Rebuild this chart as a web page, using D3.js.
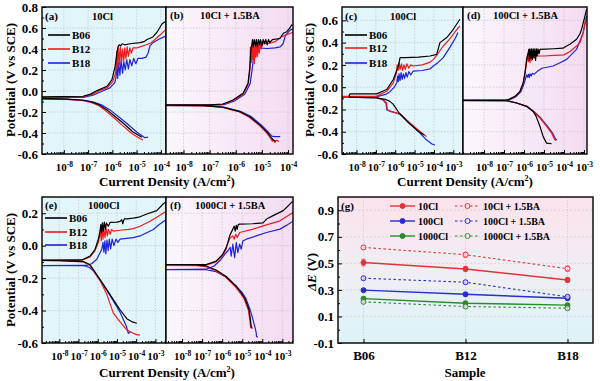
<!DOCTYPE html>
<html>
<head>
<meta charset="utf-8">
<script src="https://cdn.jsdelivr.net/npm/d3@7"></script>
<style>
body { margin: 0; background: #fff; }
text { font-family: "Liberation Serif", "Times New Roman", serif; font-weight: bold; fill: #000; }
</style>
</head>
<body>
<div id="chart"></div>
<script>
// ---- data: polarization curves, points are [log10(i / A cm-2), E / V vs SCE]
// cathodic branch listed from its high-current end to the tip, anodic from the tip upward
var samples = ["B06", "B12", "B18"];

// (a) 10Cl
var a_B06_cat = [[-4.78,-0.44],[-5.15,-0.39],[-5.56,-0.305],[-5.85,-0.25],[-6.22,-0.18],[-6.51,-0.135],[-6.84,-0.105],[-7.21,-0.088],[-7.87,-0.077],[-9.1,-0.07]];
var a_B06_ano = [[-9.1,-0.056],[-7.21,-0.05],[-6.9,-0.03],[-6.63,0.004],[-6.22,0.045],[-6.02,0.105],[-5.89,0.23],[-5.81,0.36],[-5.77,0.42],[-5.72,0.44],[-5.66,0.43],[-5.6,0.45],[-5.5,0.44],[-5.27,0.45],[-4.86,0.46],[-4.7,0.47],[-4.57,0.49],[-4.33,0.515],[-4.16,0.56],[-3.95,0.64],[-3.83,0.66]];
var a_B12_cat = [[-4.74,-0.467],[-4.85,-0.455],[-5.2,-0.405],[-5.6,-0.325],[-5.9,-0.262],[-6.26,-0.19],[-6.55,-0.14],[-6.88,-0.108],[-7.25,-0.09],[-7.9,-0.08],[-9.1,-0.076]];
var a_B12_ano = [[-9.1,-0.06],[-7.2,-0.055],[-6.85,-0.035],[-6.6,-0.005],[-6.2,0.035],[-5.98,0.09],[-5.86,0.18],[-5.82,0.38],[-5.79,0.22],[-5.75,0.41],[-5.71,0.25],[-5.67,0.42],[-5.62,0.27],[-5.58,0.40],[-5.53,0.29],[-5.49,0.41],[-5.44,0.31],[-5.39,0.42],[-5.34,0.33],[-5.28,0.41],[-5.22,0.36],[-5.15,0.41],[-5.0,0.41],[-4.86,0.42],[-4.6,0.44],[-4.4,0.46],[-4.2,0.5],[-4.0,0.54],[-3.83,0.58]];
var a_B18_cat = [[-4.53,-0.44],[-4.66,-0.445],[-5.0,-0.39],[-5.4,-0.31],[-5.72,-0.25],[-6.1,-0.18],[-6.42,-0.135],[-6.78,-0.105],[-7.15,-0.088],[-7.85,-0.08],[-9.1,-0.078]];
var a_B18_ano = [[-9.1,-0.065],[-7.2,-0.06],[-6.8,-0.04],[-6.5,-0.01],[-6.1,0.03],[-5.9,0.08],[-5.85,0.13],[-5.82,0.25],[-5.78,0.12],[-5.74,0.27],[-5.69,0.15],[-5.64,0.29],[-5.58,0.17],[-5.53,0.28],[-5.47,0.2],[-5.41,0.3],[-5.34,0.21],[-5.28,0.3],[-5.2,0.24],[-5.12,0.31],[-5.03,0.26],[-4.95,0.31],[-4.8,0.31],[-4.62,0.32],[-4.53,0.36],[-4.45,0.43],[-4.33,0.46],[-4.1,0.49],[-3.83,0.52]];

// (b) 10Cl + 1.5BA
var b_B06_cat = [[-4.48,-0.475],[-4.55,-0.47],[-4.62,-0.45],[-4.81,-0.39],[-5.07,-0.325],[-5.46,-0.245],[-5.84,-0.197],[-6.49,-0.155],[-7.2,-0.14],[-9.0,-0.135]];
var b_B06_ano = [[-9.0,-0.133],[-7.0,-0.132],[-6.49,-0.124],[-6.11,-0.086],[-5.72,-0.022],[-5.53,0.073],[-5.46,0.23],[-5.42,0.39],[-5.38,0.45],[-5.36,0.49],[-5.33,0.42],[-5.29,0.49],[-5.25,0.43],[-5.21,0.49],[-5.17,0.42],[-5.13,0.49],[-5.09,0.44],[-5.05,0.49],[-5.0,0.43],[-4.95,0.49],[-4.9,0.45],[-4.85,0.49],[-4.8,0.44],[-4.75,0.49],[-4.7,0.46],[-4.6,0.49],[-4.31,0.5],[-4.18,0.55],[-4.05,0.565],[-3.93,0.6],[-3.86,0.63],[-3.81,0.62]];
var b_B12_cat = [[-4.35,-0.48],[-4.45,-0.47],[-4.5,-0.49],[-4.55,-0.465],[-4.6,-0.48],[-4.65,-0.455],[-4.83,-0.395],[-5.09,-0.33],[-5.48,-0.25],[-5.86,-0.2],[-6.5,-0.157],[-7.2,-0.141],[-9.0,-0.137]];
var b_B12_ano = [[-9.0,-0.135],[-7.0,-0.134],[-6.5,-0.127],[-6.1,-0.09],[-5.72,-0.03],[-5.52,0.07],[-5.46,0.2],[-5.44,0.42],[-5.41,0.27],[-5.38,0.44],[-5.35,0.3],[-5.32,0.45],[-5.29,0.26],[-5.26,0.43],[-5.23,0.32],[-5.2,0.45],[-5.17,0.33],[-5.14,0.44],[-5.1,0.36],[-5.07,0.45],[-5.03,0.4],[-4.98,0.45],[-4.7,0.455],[-4.5,0.47],[-4.26,0.515],[-4.0,0.54],[-3.81,0.56]];
var b_B18_cat = [[-4.3,-0.435],[-4.5,-0.435],[-4.62,-0.43],[-4.78,-0.385],[-5.04,-0.32],[-5.43,-0.24],[-5.82,-0.193],[-6.47,-0.153],[-7.2,-0.14],[-9.0,-0.138]];
var b_B18_ano = [[-9.0,-0.138],[-7.0,-0.136],[-6.45,-0.13],[-6.05,-0.095],[-5.66,-0.03],[-5.45,0.07],[-5.36,0.23],[-5.3,0.38],[-5.26,0.42],[-5.15,0.41],[-4.8,0.405],[-4.5,0.41],[-4.3,0.42],[-4.19,0.45],[-4.1,0.53],[-3.92,0.58],[-3.84,0.59],[-3.81,0.58]];

// (c) 100Cl
var c_B06_cat = [[-4.5,-0.43],[-4.8,-0.398],[-5.3,-0.322],[-5.8,-0.232],[-6.12,-0.15],[-6.3,-0.125],[-6.5,-0.11],[-6.96,-0.097],[-8.0,-0.092],[-8.34,-0.09],[-8.38,-0.075]];
var c_B06_ano = [[-8.38,-0.075],[-8.34,-0.06],[-6.96,-0.06],[-6.44,-0.021],[-6.1,0.069],[-5.84,0.189],[-5.75,0.265],[-5.5,0.265],[-4.8,0.27],[-4.2,0.28],[-3.86,0.295],[-3.69,0.40],[-3.34,0.446],[-3.0,0.52],[-2.66,0.61]];
var c_B12_cat = [[-4.38,-0.444],[-4.72,-0.398],[-5.24,-0.322],[-5.75,-0.24],[-6.25,-0.215],[-6.41,-0.2],[-6.45,-0.14],[-6.63,-0.112],[-6.96,-0.092],[-9.0,-0.085]];
var c_B12_ano = [[-9.0,-0.082],[-6.96,-0.08],[-6.44,-0.037],[-6.1,0.039],[-5.95,0.12],[-5.9,0.2],[-5.85,0.15],[-5.8,0.22],[-5.75,0.16],[-5.68,0.21],[-5.62,0.15],[-5.55,0.2],[-5.48,0.16],[-5.4,0.21],[-5.3,0.17],[-5.2,0.2],[-5.07,0.19],[-4.6,0.2],[-4.2,0.225],[-4.03,0.25],[-3.8,0.3],[-3.52,0.37],[-3.2,0.43],[-2.9,0.5],[-2.66,0.55]];
var c_B18_cat = [[-3.95,-0.519],[-4.1,-0.51],[-4.38,-0.475],[-4.72,-0.413],[-5.24,-0.325],[-5.75,-0.243],[-6.25,-0.218],[-6.43,-0.205],[-6.48,-0.145],[-6.63,-0.115],[-6.96,-0.095],[-9.0,-0.088]];
var c_B18_ano = [[-9.0,-0.088],[-6.96,-0.086],[-6.5,-0.065],[-6.27,-0.04],[-6.05,0.0],[-5.92,0.04],[-5.88,0.1],[-5.84,0.05],[-5.8,0.12],[-5.75,0.06],[-5.7,0.13],[-5.64,0.07],[-5.58,0.12],[-5.52,0.08],[-5.45,0.13],[-5.38,0.09],[-5.3,0.14],[-5.2,0.11],[-5.07,0.145],[-4.6,0.15],[-4.2,0.165],[-4.03,0.19],[-3.8,0.22],[-3.52,0.265],[-3.17,0.36],[-2.9,0.44],[-2.76,0.49]];

// (d) 100Cl + 1.5BA
var d_B06_cat = [[-4.62,-0.508],[-4.87,-0.503],[-5.04,-0.444],[-5.2,-0.353],[-5.4,-0.26],[-5.54,-0.218],[-5.87,-0.172],[-6.37,-0.142],[-6.87,-0.12],[-9.2,-0.118]];
var d_B06_ano = [[-9.2,-0.117],[-6.87,-0.116],[-6.7,-0.105],[-6.45,-0.082],[-6.2,-0.037],[-6.04,0.039],[-5.95,0.13],[-5.87,0.25],[-5.79,0.31],[-5.76,0.34],[-5.73,0.24],[-5.7,0.345],[-5.66,0.26],[-5.62,0.345],[-5.58,0.25],[-5.54,0.345],[-5.5,0.27],[-5.46,0.345],[-5.42,0.24],[-5.38,0.345],[-5.34,0.28],[-5.3,0.345],[-5.25,0.3],[-5.2,0.34],[-4.5,0.345],[-4.05,0.35],[-3.87,0.37],[-3.7,0.386],[-3.37,0.43],[-3.2,0.48],[-3.12,0.52],[-2.95,0.64],[-2.87,0.70]];
var d_B12_cat = [[-4.4,-0.48],[-4.45,-0.473],[-4.62,-0.413],[-4.87,-0.353],[-5.2,-0.277],[-5.54,-0.218],[-5.87,-0.172],[-6.37,-0.142],[-6.87,-0.121],[-9.2,-0.119]];
var d_B12_ano = [[-9.2,-0.119],[-6.87,-0.117],[-6.7,-0.107],[-6.45,-0.085],[-6.2,-0.04],[-6.04,0.035],[-5.95,0.12],[-5.87,0.22],[-5.82,0.3],[-5.78,0.23],[-5.74,0.31],[-5.7,0.22],[-5.66,0.3],[-5.61,0.24],[-5.56,0.29],[-5.5,0.26],[-5.4,0.28],[-5.0,0.28],[-4.5,0.285],[-4.0,0.29],[-3.7,0.32],[-3.37,0.37],[-3.2,0.40],[-3.04,0.49],[-2.95,0.58],[-2.9,0.62]];
var d_B18_cat = [[-4.35,-0.475],[-4.42,-0.468],[-4.58,-0.41],[-4.83,-0.35],[-5.17,-0.275],[-5.52,-0.216],[-5.86,-0.171],[-6.36,-0.142],[-6.87,-0.122],[-9.2,-0.12]];
var d_B18_ano = [[-9.2,-0.12],[-6.87,-0.118],[-6.65,-0.108],[-6.4,-0.085],[-6.15,-0.04],[-6.0,0.03],[-5.92,0.08],[-5.87,0.11],[-5.82,0.09],[-5.78,0.115],[-5.74,0.085],[-5.7,0.12],[-5.64,0.1],[-5.58,0.125],[-5.5,0.115],[-5.35,0.14],[-5.1,0.17],[-4.54,0.19],[-4.2,0.22],[-3.87,0.25],[-3.37,0.34],[-3.04,0.49],[-2.87,0.64]];

// (e) 1000Cl
var e_B06_cat = [[-3.97,-0.478],[-4.2,-0.47],[-4.49,-0.45],[-4.84,-0.395],[-5.19,-0.333],[-5.53,-0.271],[-5.88,-0.209],[-6.23,-0.147],[-6.4,-0.118],[-6.75,-0.098],[-7.96,-0.092],[-9.1,-0.09]];
var e_B06_ano = [[-9.1,-0.089],[-6.83,-0.088],[-6.4,-0.064],[-6.14,-0.022],[-5.97,0.04],[-5.88,0.09],[-5.84,0.13],[-5.8,0.08],[-5.76,0.14],[-5.71,0.09],[-5.66,0.145],[-5.6,0.1],[-5.55,0.14],[-5.45,0.12],[-5.36,0.143],[-5.0,0.145],[-4.84,0.15],[-4.75,0.16],[-4.7,0.135],[-4.62,0.165],[-4.49,0.165],[-4.15,0.17],[-3.8,0.178],[-3.45,0.195],[-2.93,0.216],[-2.6,0.257],[-2.45,0.27]];
var e_B12_cat = [[-3.8,-0.55],[-3.95,-0.55],[-4.15,-0.54],[-4.49,-0.519],[-4.84,-0.47],[-5.19,-0.416],[-5.53,-0.3],[-5.88,-0.215],[-6.23,-0.152],[-6.4,-0.12],[-6.75,-0.1],[-7.96,-0.093],[-9.1,-0.091]];
var e_B12_ano = [[-9.1,-0.091],[-6.83,-0.09],[-6.4,-0.07],[-6.14,-0.03],[-5.97,0.02],[-5.9,0.06],[-5.86,0.1],[-5.82,0.03],[-5.78,0.11],[-5.73,0.04],[-5.68,0.1],[-5.62,0.05],[-5.57,0.11],[-5.5,0.06],[-5.44,0.1],[-5.36,0.07],[-5.28,0.1],[-5.19,0.09],[-4.84,0.095],[-4.4,0.1],[-4.15,0.105],[-3.8,0.12],[-3.28,0.15],[-2.93,0.175],[-2.6,0.2],[-2.45,0.21]];
var e_B18_cat = [[-4.3,-0.535],[-4.41,-0.54],[-4.45,-0.525],[-4.5,-0.5],[-4.84,-0.41],[-5.19,-0.34],[-5.53,-0.275],[-5.88,-0.212],[-6.23,-0.155],[-6.45,-0.133],[-6.75,-0.125],[-7.96,-0.123],[-9.1,-0.123]];
var e_B18_ano = [[-9.1,-0.123],[-6.57,-0.122],[-6.3,-0.11],[-6.05,-0.084],[-5.79,-0.022],[-5.73,0.02],[-5.68,-0.04],[-5.63,0.03],[-5.58,-0.05],[-5.52,0.035],[-5.46,-0.03],[-5.4,0.04],[-5.33,-0.02],[-5.25,0.04],[-5.16,0.0],[-5.05,0.04],[-4.95,0.02],[-4.84,0.04],[-4.5,0.045],[-4.15,0.05],[-3.8,0.06],[-3.45,0.08],[-3.11,0.1],[-2.8,0.13],[-2.45,0.16]];

// (f) 1000Cl + 1.5BA
var f_B06_cat = [[-4.5,-0.505],[-4.55,-0.5],[-4.6,-0.45],[-4.66,-0.395],[-4.85,-0.33],[-5.0,-0.3],[-5.3,-0.25],[-5.8,-0.19],[-6.3,-0.15],[-6.8,-0.125],[-7.3,-0.118],[-9.0,-0.116]];
var f_B06_ano = [[-9.0,-0.116],[-6.8,-0.116],[-6.3,-0.095],[-5.97,-0.053],[-5.8,-0.012],[-5.72,0.019],[-5.63,0.06],[-5.47,0.102],[-5.4,0.12],[-5.35,0.09],[-5.3,0.125],[-5.25,0.1],[-5.2,0.13],[-5.13,0.133],[-4.5,0.135],[-3.96,0.14],[-3.79,0.164],[-3.46,0.185],[-2.96,0.216],[-2.78,0.237],[-2.53,0.268],[-2.45,0.27]];
var f_B12_cat = [[-4.48,-0.51],[-4.58,-0.505],[-4.63,-0.45],[-4.7,-0.395],[-4.9,-0.33],[-5.05,-0.3],[-5.35,-0.252],[-5.85,-0.192],[-6.35,-0.153],[-6.8,-0.13],[-7.3,-0.123],[-9.0,-0.122]];
var f_B12_ano = [[-9.0,-0.122],[-6.8,-0.12],[-6.3,-0.1],[-5.97,-0.06],[-5.8,-0.02],[-5.7,0.02],[-5.6,0.05],[-5.47,0.06],[-5.4,0.04],[-5.33,0.07],[-5.25,0.05],[-5.13,0.081],[-4.5,0.1],[-3.96,0.122],[-3.12,0.153],[-2.45,0.206]];
var f_B18_cat = [[-4.22,-0.565],[-4.29,-0.56],[-4.3,-0.54],[-4.35,-0.51],[-4.5,-0.44],[-4.62,-0.39],[-4.82,-0.325],[-5.0,-0.29],[-5.3,-0.25],[-5.8,-0.193],[-6.3,-0.16],[-6.8,-0.148],[-9.0,-0.147]];
var f_B18_ano = [[-9.0,-0.147],[-6.8,-0.145],[-6.4,-0.125],[-6.1,-0.09],[-5.85,-0.05],[-5.7,-0.03],[-5.6,-0.01],[-5.55,-0.064],[-5.47,0.009],[-5.38,-0.074],[-5.3,0.019],[-5.22,-0.043],[-5.13,0.009],[-5.05,-0.022],[-4.97,0.029],[-4.8,0.04],[-4.3,0.06],[-3.79,0.081],[-3.12,0.102],[-2.8,0.125],[-2.45,0.153]];

// (g) delta E per sample
var dE_10Cl      = [0.506, 0.458, 0.375];
var dE_10Cl_BA   = [0.620, 0.565, 0.460];
var dE_100Cl     = [0.298, 0.267, 0.237];
var dE_100Cl_BA  = [0.388, 0.358, 0.248];
var dE_1000Cl    = [0.234, 0.200, 0.185];
var dE_1000Cl_BA = [0.210, 0.175, 0.162];
var err_10Cl      = [0.025, 0.020, 0.018];
var err_10Cl_BA   = [0.015, 0.018, 0.020];
var err_100Cl     = [0.010, 0.012, 0.010];
var err_100Cl_BA  = [0.012, 0.012, 0.010];
var err_1000Cl    = [0.012, 0.012, 0.010];
var err_1000Cl_BA = [0.010, 0.010, 0.010];

// tick labels
var decTop = [-8, -7, -6, -5, -4];
var decWide = [-8, -7, -6, -5, -4, -3];
var yTicksA = [-0.6, -0.4, -0.2, 0.0, 0.2, 0.4, 0.6, 0.8];
var yTicksC = [-0.6, -0.4, -0.2, 0.0, 0.2, 0.4, 0.6];
var yTicksE = [-0.6, -0.4, -0.2, 0.0, 0.2];
var yTicksG = [-0.1, 0.1, 0.3, 0.5, 0.7, 0.9];

var colors = { B06: "#000000", B12: "#ee1b1f", B18: "#1e22d8" };

var svg = d3.select("#chart").append("svg").attr("width", 600).attr("height", 381);
var defs = svg.append("defs");

var pink = defs.append("linearGradient").attr("id", "pinkBg")
    .attr("x1", 0).attr("x2", 1).attr("y1", 0).attr("y2", 0);
pink.append("stop").attr("offset", 0).attr("stop-color", "#fbf7fc");
pink.append("stop").attr("offset", 1).attr("stop-color", "#f4dbf2");
var gbg = defs.append("linearGradient").attr("id", "gBg")
    .attr("x1", 0).attr("x2", 0).attr("y1", 0).attr("y2", 1);
gbg.append("stop").attr("offset", 0).attr("stop-color", "#fbe2ec");
gbg.append("stop").attr("offset", 0.5).attr("stop-color", "#f1eef4");
gbg.append("stop").attr("offset", 1).attr("stop-color", "#dcf4f7");

var panels = [
    { id: "a", label: "(a)", title: "10Cl", x0: 42, x1: 166, y0: 7, y1: 154, xd: [-8.9, -3.79], yd: [-0.6, 0.8],
      dec: decTop, yt: yTicksA, bg: "#e2f5fb", left: true, lx: 48, ly: [35, 49, 63], tx: 92, ty: 20,
      curves: { B06: [a_B06_cat, a_B06_ano], B12: [a_B12_cat, a_B12_ano], B18: [a_B18_cat, a_B18_ano] } },
    { id: "b", label: "(b)", title: "10Cl + 1.5BA", x0: 166, x1: 293, y0: 7, y1: 154, xd: [-8.67, -3.81], yd: [-0.6, 0.8],
      dec: decTop, yt: yTicksA, bg: "url(#pinkBg)", left: false, tx: 200, ty: 19,
      curves: { B06: [b_B06_cat, b_B06_ano], B12: [b_B12_cat, b_B12_ano], B18: [b_B18_cat, b_B18_ano] } },
    { id: "c", label: "(c)", title: "100Cl", x0: 342, x1: 463, y0: 7, y1: 154, xd: [-8.75, -2.5], yd: [-0.6, 0.72],
      dec: decWide, yt: yTicksC, bg: "#e2f5fb", left: true, lx: 345, ly: [35, 48, 63], tx: 390, ty: 20,
      curves: { B06: [c_B06_cat, c_B06_ano], B12: [c_B12_cat, c_B12_ano], B18: [c_B18_cat, c_B18_ano] } },
    { id: "d", label: "(d)", title: "100Cl + 1.5BA", x0: 463, x1: 587, y0: 7, y1: 154, xd: [-9.05, -2.85], yd: [-0.6, 0.72],
      dec: decWide, yt: yTicksC, bg: "url(#pinkBg)", left: false, tx: 493, ty: 19,
      curves: { B06: [d_B06_cat, d_B06_ano], B12: [d_B12_cat, d_B12_ano], B18: [d_B18_cat, d_B18_ano] } },
    { id: "e", label: "(e)", title: "1000Cl", x0: 42, x1: 166, y0: 197, y1: 343, xd: [-8.9, -2.45], yd: [-0.6, 0.3],
      dec: decWide, yt: yTicksE, bg: "#e2f5fb", left: true, lx: 45, ly: [218, 232, 245], tx: 88, ty: 209,
      curves: { B06: [e_B06_cat, e_B06_ano], B12: [e_B12_cat, e_B12_ano], B18: [e_B18_cat, e_B18_ano] } },
    { id: "f", label: "(f)", title: "1000Cl + 1.5BA", x0: 166, x1: 293, y0: 197, y1: 343, xd: [-8.8, -2.47], yd: [-0.6, 0.3],
      dec: decWide, yt: yTicksE, bg: "url(#pinkBg)", left: false, tx: 195, ty: 209,
      curves: { B06: [f_B06_cat, f_B06_ano], B12: [f_B12_cat, f_B12_ano], B18: [f_B18_cat, f_B18_ano] } }
];

function cleanAxis(ax, size) {
    ax.attr("font-family", null).attr("font-size", size + "px");
    ax.select(".domain").remove();
    ax.selectAll(".tick line").attr("stroke", "#000").attr("stroke-width", 1);
}

function minorMidpoints(ticks) {
    var m = [];
    for (var i = 0; i < ticks.length - 1; i++) m.push((ticks[i] + ticks[i + 1]) / 2);
    return m;
}

panels.forEach(function (p) {
    var xs = d3.scaleLog().domain([Math.pow(10, p.xd[0]), Math.pow(10, p.xd[1])]).range([p.x0, p.x1]);
    var ys = d3.scaleLinear().domain(p.yd).range([p.y1, p.y0]);
    var g = svg.append("g");

    g.append("rect").attr("x", p.x0).attr("y", p.y0)
        .attr("width", p.x1 - p.x0).attr("height", p.y1 - p.y0).attr("fill", p.bg);

    // dotted grid
    var majors = p.dec.map(function (n) { return Math.pow(10, n); });
    g.selectAll(".gx").data(majors).enter().append("line")
        .attr("x1", function (d) { return xs(d); }).attr("x2", function (d) { return xs(d); })
        .attr("y1", p.y0).attr("y2", p.y1)
        .attr("stroke", "#c4c4c4").attr("stroke-width", 0.7).attr("stroke-dasharray", "1.5,1.5");
    g.selectAll(".gy").data(p.yt).enter().append("line")
        .attr("x1", p.x0).attr("x2", p.x1)
        .attr("y1", function (d) { return ys(d); }).attr("y2", function (d) { return ys(d); })
        .attr("stroke", "#c4c4c4").attr("stroke-width", 0.7).attr("stroke-dasharray", "1.5,1.5");

    // curves
    var clipId = "clip-" + p.id;
    defs.append("clipPath").attr("id", clipId).append("rect")
        .attr("x", p.x0).attr("y", p.y0).attr("width", p.x1 - p.x0).attr("height", p.y1 - p.y0);
    var line = d3.line()
        .x(function (d) { return xs(Math.pow(10, d[0])); })
        .y(function (d) { return ys(d[1]); });
    var cg = g.append("g").attr("clip-path", "url(#" + clipId + ")");
    ["B18", "B12", "B06"].forEach(function (s) {
        var pts = p.curves[s][0].concat(p.curves[s][1]);
        cg.append("path").attr("d", line(pts)).attr("fill", "none")
            .attr("stroke", colors[s]).attr("stroke-width", 1.2).attr("stroke-linejoin", "round");
    });

    // frame
    g.append("rect").attr("x", p.x0).attr("y", p.y0)
        .attr("width", p.x1 - p.x0).attr("height", p.y1 - p.y0)
        .attr("fill", "none").attr("stroke", "#000").attr("stroke-width", 1.4);

    // x axis: minor ticks
    var minor = [];
    for (var n = Math.floor(p.xd[0]); n < p.xd[1]; n++) {
        for (var k = 2; k < 10; k++) {
            var v = k * Math.pow(10, n), lv = Math.log10(v);
            if (lv > p.xd[0] && lv < p.xd[1]) minor.push(v);
        }
    }
    var axm = g.append("g").attr("transform", "translate(0," + p.y1 + ")")
        .call(d3.axisBottom(xs).tickValues(minor).tickSize(-2).tickFormat(function () { return ""; }));
    cleanAxis(axm, 10);

    var axM = g.append("g").attr("transform", "translate(0," + p.y1 + ")")
        .call(d3.axisBottom(xs).tickValues(majors).tickSize(-4).tickPadding(9)
            .tickFormat(function () { return ""; }));
    cleanAxis(axM, 11);
    axM.selectAll(".tick text").each(function (d) {
        var t = d3.select(this);
        t.append("tspan").text("10");
        t.append("tspan").attr("dy", "-0.45em").attr("font-size", "7.5px")
            .text(Math.round(Math.log10(d)));
    });

    if (p.left) {
        var aym = g.append("g").attr("transform", "translate(" + p.x0 + ",0)")
            .call(d3.axisLeft(ys).tickValues(minorMidpoints(p.yt)).tickSize(-2).tickFormat(function () { return ""; }));
        cleanAxis(aym, 10);
        var ay = g.append("g").attr("transform", "translate(" + p.x0 + ",0)")
            .call(d3.axisLeft(ys).tickValues(p.yt).tickSize(-4).tickPadding(4)
                .tickFormat(function (d) { return d.toFixed(1); }));
        cleanAxis(ay, 13);

        // legend
        samples.forEach(function (s, i) {
            g.append("line").attr("x1", p.lx).attr("x2", p.lx + 22)
                .attr("y1", p.ly[i]).attr("y2", p.ly[i])
                .attr("stroke", colors[s]).attr("stroke-width", 1.6);
            g.append("text").attr("x", p.lx + 24).attr("y", p.ly[i] + 4)
                .attr("font-size", "11px").text(s);
        });
        g.append("text").attr("x", p.x0 + 3).attr("y", p.ty).attr("font-size", "11px").text(p.label);
    } else {
        g.append("text").attr("x", p.x0 + 4).attr("y", p.ty).attr("font-size", "11px").text(p.label);
    }
    g.append("text").attr("x", p.tx).attr("y", p.ty).attr("font-size", "10.5px").text(p.title);
});

// axis titles for the polarization panels
function potentialTitle(x, y) {
    svg.append("text").attr("transform", "translate(" + x + "," + y + ") rotate(-90)")
        .attr("text-anchor", "middle").attr("font-size", "13px").text("Potential (V vs SCE)");
}
function currentTitle(x, y) {
    var t = svg.append("text").attr("x", x).attr("y", y).attr("text-anchor", "middle").attr("font-size", "13px");
    t.append("tspan").text("Current Density (A/cm");
    t.append("tspan").attr("dy", -5).attr("font-size", "8px").text("2");
    t.append("tspan").attr("dy", 5).text(")");
}
potentialTitle(15, 80);
potentialTitle(314, 80);
potentialTitle(15, 270);
currentTitle(167, 186);
currentTitle(465, 186);
currentTitle(167, 377);

// ---- panel (g)
var gx0 = 338, gx1 = 593, gy0 = 197, gy1 = 343;
var gx = d3.scalePoint().domain(samples).range([gx0, gx1]).padding(0.25);
var gy = d3.scaleLinear().domain([-0.1, 1.0]).range([gy1, gy0]);
var G = svg.append("g");
G.append("rect").attr("x", gx0).attr("y", gy0).attr("width", gx1 - gx0).attr("height", gy1 - gy0)
    .attr("fill", "url(#gBg)");
G.selectAll(".ggx").data(samples).enter().append("line")
    .attr("x1", function (d) { return gx(d); }).attr("x2", function (d) { return gx(d); })
    .attr("y1", gy0).attr("y2", gy1)
    .attr("stroke", "#c8c8c8").attr("stroke-width", 0.7).attr("stroke-dasharray", "1.5,1.5");
G.selectAll(".ggy").data(yTicksG).enter().append("line")
    .attr("x1", gx0).attr("x2", gx1)
    .attr("y1", function (d) { return gy(d); }).attr("y2", function (d) { return gy(d); })
    .attr("stroke", "#cfcfcf").attr("stroke-width", 0.7).attr("stroke-dasharray", "2,2");

var series = [
    { name: "10Cl", vals: dE_10Cl, err: err_10Cl, color: "#e03538", dashed: false },
    { name: "100Cl", vals: dE_100Cl, err: err_100Cl, color: "#2a2ccc", dashed: false },
    { name: "1000Cl", vals: dE_1000Cl, err: err_1000Cl, color: "#2b8a2f", dashed: false },
    { name: "10Cl + 1.5BA", vals: dE_10Cl_BA, err: err_10Cl_BA, color: "#e03538", dashed: true },
    { name: "100Cl + 1.5BA", vals: dE_100Cl_BA, err: err_100Cl_BA, color: "#2a2ccc", dashed: true },
    { name: "1000Cl + 1.5BA", vals: dE_1000Cl_BA, err: err_1000Cl_BA, color: "#2b8a2f", dashed: true }
];
var gline = d3.line()
    .x(function (d, i) { return gx(samples[i]); })
    .y(function (d) { return gy(d); });

function marker(sel, x, y, s) {
    sel.append("circle").attr("cx", x).attr("cy", y).attr("r", 2.5)
        .attr("fill", s.dashed ? "#fbeef2" : s.color)
        .attr("fill-opacity", s.dashed ? 0.7 : 1)
        .attr("stroke", s.color).attr("stroke-width", 1);
}

series.forEach(function (s) {
    G.append("path").attr("d", gline(s.vals)).attr("fill", "none")
        .attr("stroke", s.color).attr("stroke-width", s.dashed ? 1.1 : 1.4)
        .attr("stroke-dasharray", s.dashed ? "2.5,2.5" : null);
    s.vals.forEach(function (v, i) {
        var x = gx(samples[i]);
        G.append("line").attr("x1", x).attr("x2", x)
            .attr("y1", gy(v - s.err[i])).attr("y2", gy(v + s.err[i]))
            .attr("stroke", s.color).attr("stroke-width", 0.9).attr("stroke-opacity", 0.8);
        [v - s.err[i], v + s.err[i]].forEach(function (e) {
            G.append("line").attr("x1", x - 2).attr("x2", x + 2)
                .attr("y1", gy(e)).attr("y2", gy(e))
                .attr("stroke", s.color).attr("stroke-width", 0.9).attr("stroke-opacity", 0.8);
        });
        marker(G, x, gy(v), s);
    });
});

// legend (g)
series.forEach(function (s, i) {
    var col = s.dashed ? 1 : 0, row = i % 3;
    var lx = col ? 455 : 390, ly = 206 + row * 15;
    G.append("line").attr("x1", lx).attr("x2", lx + 25).attr("y1", ly).attr("y2", ly)
        .attr("stroke", s.color).attr("stroke-width", s.dashed ? 1.1 : 1.4)
        .attr("stroke-dasharray", s.dashed ? "2.5,2.5" : null);
    marker(G, lx + 12.5, ly, s);
    G.append("text").attr("x", lx + 28).attr("y", ly + 3.5).attr("font-size", "10px").text(s.name);
});

G.append("rect").attr("x", gx0).attr("y", gy0).attr("width", gx1 - gx0).attr("height", gy1 - gy0)
    .attr("fill", "none").attr("stroke", "#000").attr("stroke-width", 1.4);

var gax = G.append("g").attr("transform", "translate(0," + gy1 + ")")
    .call(d3.axisBottom(gx).tickSize(-4).tickPadding(8));
cleanAxis(gax, 13);
var gaym = G.append("g").attr("transform", "translate(" + gx0 + ",0)")
    .call(d3.axisLeft(gy).tickValues(minorMidpoints(yTicksG)).tickSize(-2).tickFormat(function () { return ""; }));
cleanAxis(gaym, 10);
var gay = G.append("g").attr("transform", "translate(" + gx0 + ",0)")
    .call(d3.axisLeft(gy).tickValues(yTicksG).tickSize(-4).tickPadding(4)
        .tickFormat(function (d) { return d.toFixed(1); }));
cleanAxis(gay, 13);

G.append("text").attr("x", gx0 + 3).attr("y", 210).attr("font-size", "11px").text("(g)");
var dt = G.append("text").attr("transform", "translate(316,272) rotate(-90)")
    .attr("text-anchor", "middle").attr("font-size", "13px");
dt.append("tspan").attr("font-style", "italic").text("\u0394E");
dt.append("tspan").text(" (V)");
G.append("text").attr("x", 465).attr("y", 377).attr("text-anchor", "middle")
    .attr("font-size", "13px").text("Sample");
</script>
</body>
</html>
